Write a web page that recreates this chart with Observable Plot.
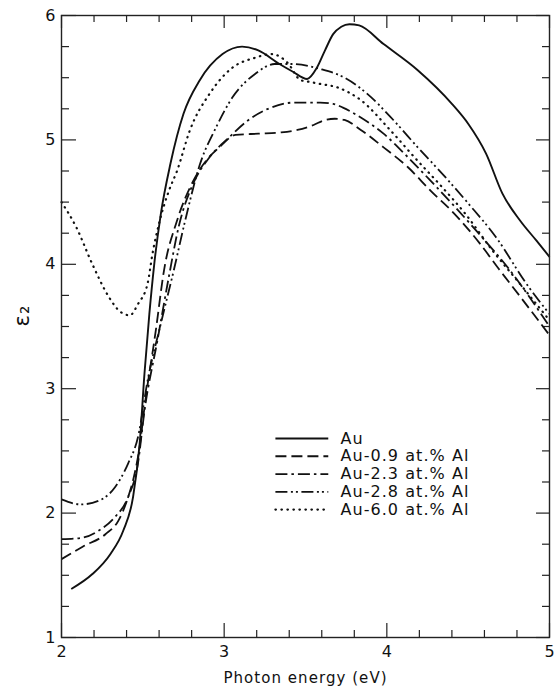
<!DOCTYPE html>
<html><head><meta charset="utf-8">
<script src="https://cdn.jsdelivr.net/npm/d3@7"></script>
<script src="https://cdn.jsdelivr.net/npm/@observablehq/plot@0.6"></script>
<style>
body{margin:0;background:#fff}
.eps g[aria-label="text"] text{letter-spacing:1.05px}
</style>
</head><body><div id="chart"></div>
<script>
// ---- data ----
const seriesNames = ["Au", "Au-0.9 at.% Al", "Au-2.3 at.% Al", "Au-2.8 at.% Al", "Au-6.0 at.% Al"];

const auX = [2.06, 2.19, 2.30, 2.38, 2.44, 2.48, 2.51, 2.54, 2.57, 2.61, 2.67, 2.75, 2.85, 2.99, 3.11, 3.21, 3.34, 3.42, 3.51, 3.57, 3.62, 3.67, 3.72, 3.77, 3.83, 3.98, 4.19, 4.40, 4.50, 4.61, 4.71, 4.82, 4.92, 5.0];
const auY = [1.39, 1.51, 1.67, 1.86, 2.13, 2.55, 3.12, 3.60, 4.00, 4.40, 4.81, 5.21, 5.48, 5.69, 5.75, 5.72, 5.61, 5.55, 5.49, 5.58, 5.72, 5.85, 5.91, 5.93, 5.92, 5.77, 5.56, 5.29, 5.13, 4.89, 4.57, 4.35, 4.19, 4.06];

const al09X = [2.0, 2.13, 2.27, 2.35, 2.41, 2.45, 2.48, 2.51, 2.58, 2.63, 2.71, 2.81, 2.90, 2.97, 3.07, 3.21, 3.35, 3.45, 3.55, 3.62, 3.68, 3.74, 3.84, 3.98, 4.13, 4.27, 4.42, 4.57, 4.69, 4.82, 5.0];
const al09Y = [1.63, 1.73, 1.83, 1.94, 2.13, 2.32, 2.53, 2.85, 3.47, 3.95, 4.35, 4.67, 4.85, 4.94, 5.04, 5.05, 5.06, 5.08, 5.12, 5.16, 5.17, 5.16, 5.08, 4.94, 4.78, 4.59, 4.40, 4.17, 3.96, 3.74, 3.43];

const al23X = [2.0, 2.12, 2.23, 2.33, 2.41, 2.47, 2.51, 2.59, 2.66, 2.72, 2.81, 2.91, 3.03, 3.15, 3.27, 3.43, 3.59, 3.67, 3.73, 3.84, 3.98, 4.13, 4.27, 4.42, 4.57, 4.74, 5.0];
const al23Y = [1.79, 1.80, 1.86, 1.97, 2.13, 2.40, 2.82, 3.39, 3.90, 4.30, 4.65, 4.86, 5.02, 5.16, 5.25, 5.30, 5.30, 5.29, 5.26, 5.18, 5.05, 4.86, 4.67, 4.46, 4.24, 3.98, 3.50];

const al28X = [2.0, 2.12, 2.23, 2.33, 2.41, 2.47, 2.53, 2.61, 2.69, 2.76, 2.85, 2.95, 3.05, 3.19, 3.31, 3.43, 3.59, 3.74, 3.88, 4.04, 4.19, 4.36, 4.50, 4.67, 4.86, 5.0];
const al28Y = [2.11, 2.07, 2.10, 2.21, 2.40, 2.61, 3.07, 3.52, 3.95, 4.35, 4.80, 5.10, 5.34, 5.53, 5.61, 5.61, 5.57, 5.50, 5.37, 5.16, 4.94, 4.70, 4.49, 4.22, 3.84, 3.60];

const al60X = [2.0, 2.09, 2.19, 2.29, 2.36, 2.42, 2.47, 2.53, 2.56, 2.60, 2.66, 2.71, 2.79, 2.91, 3.05, 3.19, 3.29, 3.39, 3.47, 3.51, 3.59, 3.70, 3.84, 4.02, 4.17, 4.34, 4.48, 4.65, 4.82, 5.0];
const al60Y = [4.50, 4.30, 4.00, 3.74, 3.62, 3.59, 3.68, 3.85, 4.09, 4.33, 4.59, 4.75, 5.08, 5.37, 5.58, 5.66, 5.69, 5.62, 5.48, 5.47, 5.45, 5.42, 5.32, 5.08, 4.86, 4.62, 4.41, 4.11, 3.84, 3.55];

const xTickLabels = [2, 3, 4, 5];
const yTickLabels = [1, 2, 3, 4, 5, 6];
const xMinorTicks = [2.2, 2.4, 2.6, 2.8, 3.2, 3.4, 3.6, 3.8, 4.2, 4.4, 4.6, 4.8];
const yMinorTicks = [1.25, 1.5, 1.75, 2.25, 2.5, 2.75, 3.25, 3.5, 3.75, 4.25, 4.5, 4.75, 5.25, 5.5, 5.75];
const xLabel = "Photon energy (eV)";
const yLabel = "ε₂";

// ---- layout / style ----
const W = 556, H = 694;
const M = {top: 15, right: 7, bottom: 57, left: 61};
const plotW = W - M.left - M.right, plotH = H - M.top - M.bottom;
const FONT = "DejaVu Sans";
const dashes = [null, "11,5", "12,4,2.5,4", "12,3.5,2,3,2,3.5", "0.5,5.5"];
const widths = [1.9, 1.8, 1.8, 1.8, 2.2];
const seriesX = [auX, al09X, al23X, al28X, al60X];
const seriesY = [auY, al09Y, al23Y, al28Y, al60Y];
const rows = seriesX.map((xs, s) => xs.map((x, i) => ({x, y: seriesY[s][i]})));

// legend placement (data units)
const legX1 = 3.315, legX2 = 3.64, legTextX = 3.715, legTopY = 2.60, legStep = 0.143;

const marks = [];
// ticks inward on all four sides
const tick = {stroke: "#222", strokeWidth: 1.2};
marks.push(Plot.tickX(xTickLabels, {x: d => d, insetTop: plotH - 14, ...tick}));
marks.push(Plot.tickX(xMinorTicks, {x: d => d, insetTop: plotH - 7, ...tick}));
marks.push(Plot.tickX(xTickLabels, {x: d => d, insetBottom: plotH - 13, ...tick}));
marks.push(Plot.tickX(xMinorTicks, {x: d => d, insetBottom: plotH - 7, ...tick}));
marks.push(Plot.tickY(yTickLabels, {y: d => d, insetRight: plotW - 15, ...tick}));
marks.push(Plot.tickY(yMinorTicks, {y: d => d, insetRight: plotW - 8, ...tick}));
marks.push(Plot.tickY(yTickLabels, {y: d => d, insetLeft: plotW - 13, ...tick}));
marks.push(Plot.tickY(yMinorTicks, {y: d => d, insetLeft: plotW - 7, ...tick}));

rows.forEach((data, s) => {
  const st = {stroke: "#111", strokeWidth: widths[s], strokeDasharray: dashes[s],
              strokeLinecap: s === 4 ? "round" : "butt"};
  marks.push(Plot.line(data, {x: "x", y: "y", curve: "monotone-x", ...st}));
  const ly = legTopY - s * legStep;
  marks.push(Plot.line([{x: legX1, y: ly}, {x: legX2, y: ly}], {x: "x", y: "y", ...st}));
  marks.push(Plot.text([seriesNames[s]], {x: legTextX, y: ly, text: d => d, textAnchor: "start",
              fontSize: 16, fill: "#111"}));
});

marks.push(Plot.frame({stroke: "#222", strokeWidth: 1.4}));
marks.push(Plot.axisX({ticks: xTickLabels, tickSize: 0, tickPadding: 8, fontSize: 16, label: null, tickFormat: d => String(d)}));
marks.push(Plot.axisY({ticks: yTickLabels, tickSize: 0, tickPadding: 6, fontSize: 16, label: null, tickFormat: d => String(d)}));
marks.push(Plot.text([xLabel], {frameAnchor: "bottom", dy: 45, text: d => d, fontSize: 15, fill: "#111"}));
marks.push(Plot.text([yLabel], {frameAnchor: "left", dx: -39, rotate: -90, text: d => d, fontSize: 21, fill: "#111"}));

const chart = Plot.plot({
  width: W, height: H, className: "eps",
  marginTop: M.top, marginRight: M.right, marginBottom: M.bottom, marginLeft: M.left,
  x: {domain: [2, 5]},
  y: {domain: [1, 6]},
  style: {fontFamily: FONT, fontSize: "16px", color: "#111", background: "#fff"},
  marks
});
document.getElementById("chart").appendChild(chart);
</script>
</body></html>
